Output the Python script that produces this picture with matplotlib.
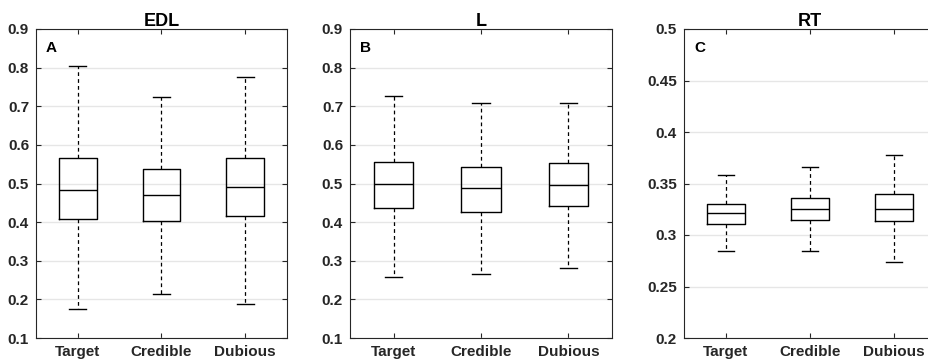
import matplotlib.pyplot as plt

plt.rcParams['font.family'] = ['Liberation Sans', 'DejaVu Sans']
plt.rcParams['font.weight'] = 'bold'

groups = ['Target', 'Credible', 'Dubious']
titles = ['EDL', 'L', 'RT']
letters = ['A', 'B', 'C']

# (lower whisker, q1, median, q3, upper whisker) per group
edl = [(0.174, 0.409, 0.483, 0.566, 0.803),
       (0.214, 0.402, 0.469, 0.538, 0.724),
       (0.188, 0.415, 0.490, 0.566, 0.776)]
l_vals = [(0.258, 0.437, 0.500, 0.556, 0.727),
          (0.265, 0.426, 0.488, 0.543, 0.708),
          (0.280, 0.443, 0.496, 0.552, 0.708)]
rt = [(0.284, 0.311, 0.321, 0.330, 0.358),
      (0.284, 0.315, 0.325, 0.336, 0.366),
      (0.274, 0.314, 0.325, 0.340, 0.378)]

ylims = [(0.1, 0.9), (0.1, 0.9), (0.2, 0.5)]
yticks = [[0.1, 0.2, 0.3, 0.4, 0.5, 0.6, 0.7, 0.8, 0.9],
          [0.1, 0.2, 0.3, 0.4, 0.5, 0.6, 0.7, 0.8, 0.9],
          [0.2, 0.25, 0.3, 0.35, 0.4, 0.45, 0.5]]
ylabels = [['0.1', '0.2', '0.3', '0.4', '0.5', '0.6', '0.7', '0.8', '0.9'],
           ['0.1', '0.2', '0.3', '0.4', '0.5', '0.6', '0.7', '0.8', '0.9'],
           ['0.2', '0.25', '0.3', '0.35', '0.4', '0.45', '0.5']]

W, H = 929, 362
fig = plt.figure(figsize=(W / 100, H / 100), dpi=100)
# axes boxes in pixels: left, right, top, bottom
boxes = [(36, 287, 29, 338), (350, 612, 29, 338), (684, 936, 29, 338)]

for i, data in enumerate([edl, l_vals, rt]):
    x0, x1, y0, y1 = boxes[i]
    ax = fig.add_axes([x0 / W, 1 - y1 / H, (x1 - x0) / W, (y1 - y0) / H])
    stats = []
    for g, (lo, q1, med, q3, hi) in zip(groups, data):
        stats.append({'label': g, 'whislo': lo, 'q1': q1, 'med': med,
                      'q3': q3, 'whishi': hi, 'fliers': []})
    ax.bxp(stats, positions=[1, 2, 3], widths=0.45, capwidths=0.2,
           showfliers=False,
           boxprops=dict(color='black', linewidth=1.0),
           medianprops=dict(color='black', linewidth=1.0),
           whiskerprops=dict(color='black', linewidth=0.9, linestyle=(0, (3, 2.5))),
           capprops=dict(color='black', linewidth=1.0))
    ax.set_xlim(0.5, 3.5)
    ax.set_ylim(*ylims[i])
    ax.set_yticks(yticks[i])
    ax.set_yticklabels(ylabels[i])
    ax.set_xticks([1, 2, 3])
    ax.set_xticklabels(groups)
    ax.yaxis.grid(True, color='#e6e6e6', linewidth=1.0)
    ax.set_axisbelow(True)
    ax.tick_params(direction='in', length=3.5, width=0.8, top=True, right=True,
                   labelsize=11, colors='#262626', pad=5)
    for s in ax.spines.values():
        s.set_color('#262626')
        s.set_linewidth(0.8)
    ax.set_title(titles[i], fontsize=13, fontweight='bold', pad=2)
    ax.text(0.04, 0.96, letters[i], transform=ax.transAxes, fontsize=11,
            fontweight='bold', va='top', ha='left')

fig.savefig('out.png', dpi=100)
